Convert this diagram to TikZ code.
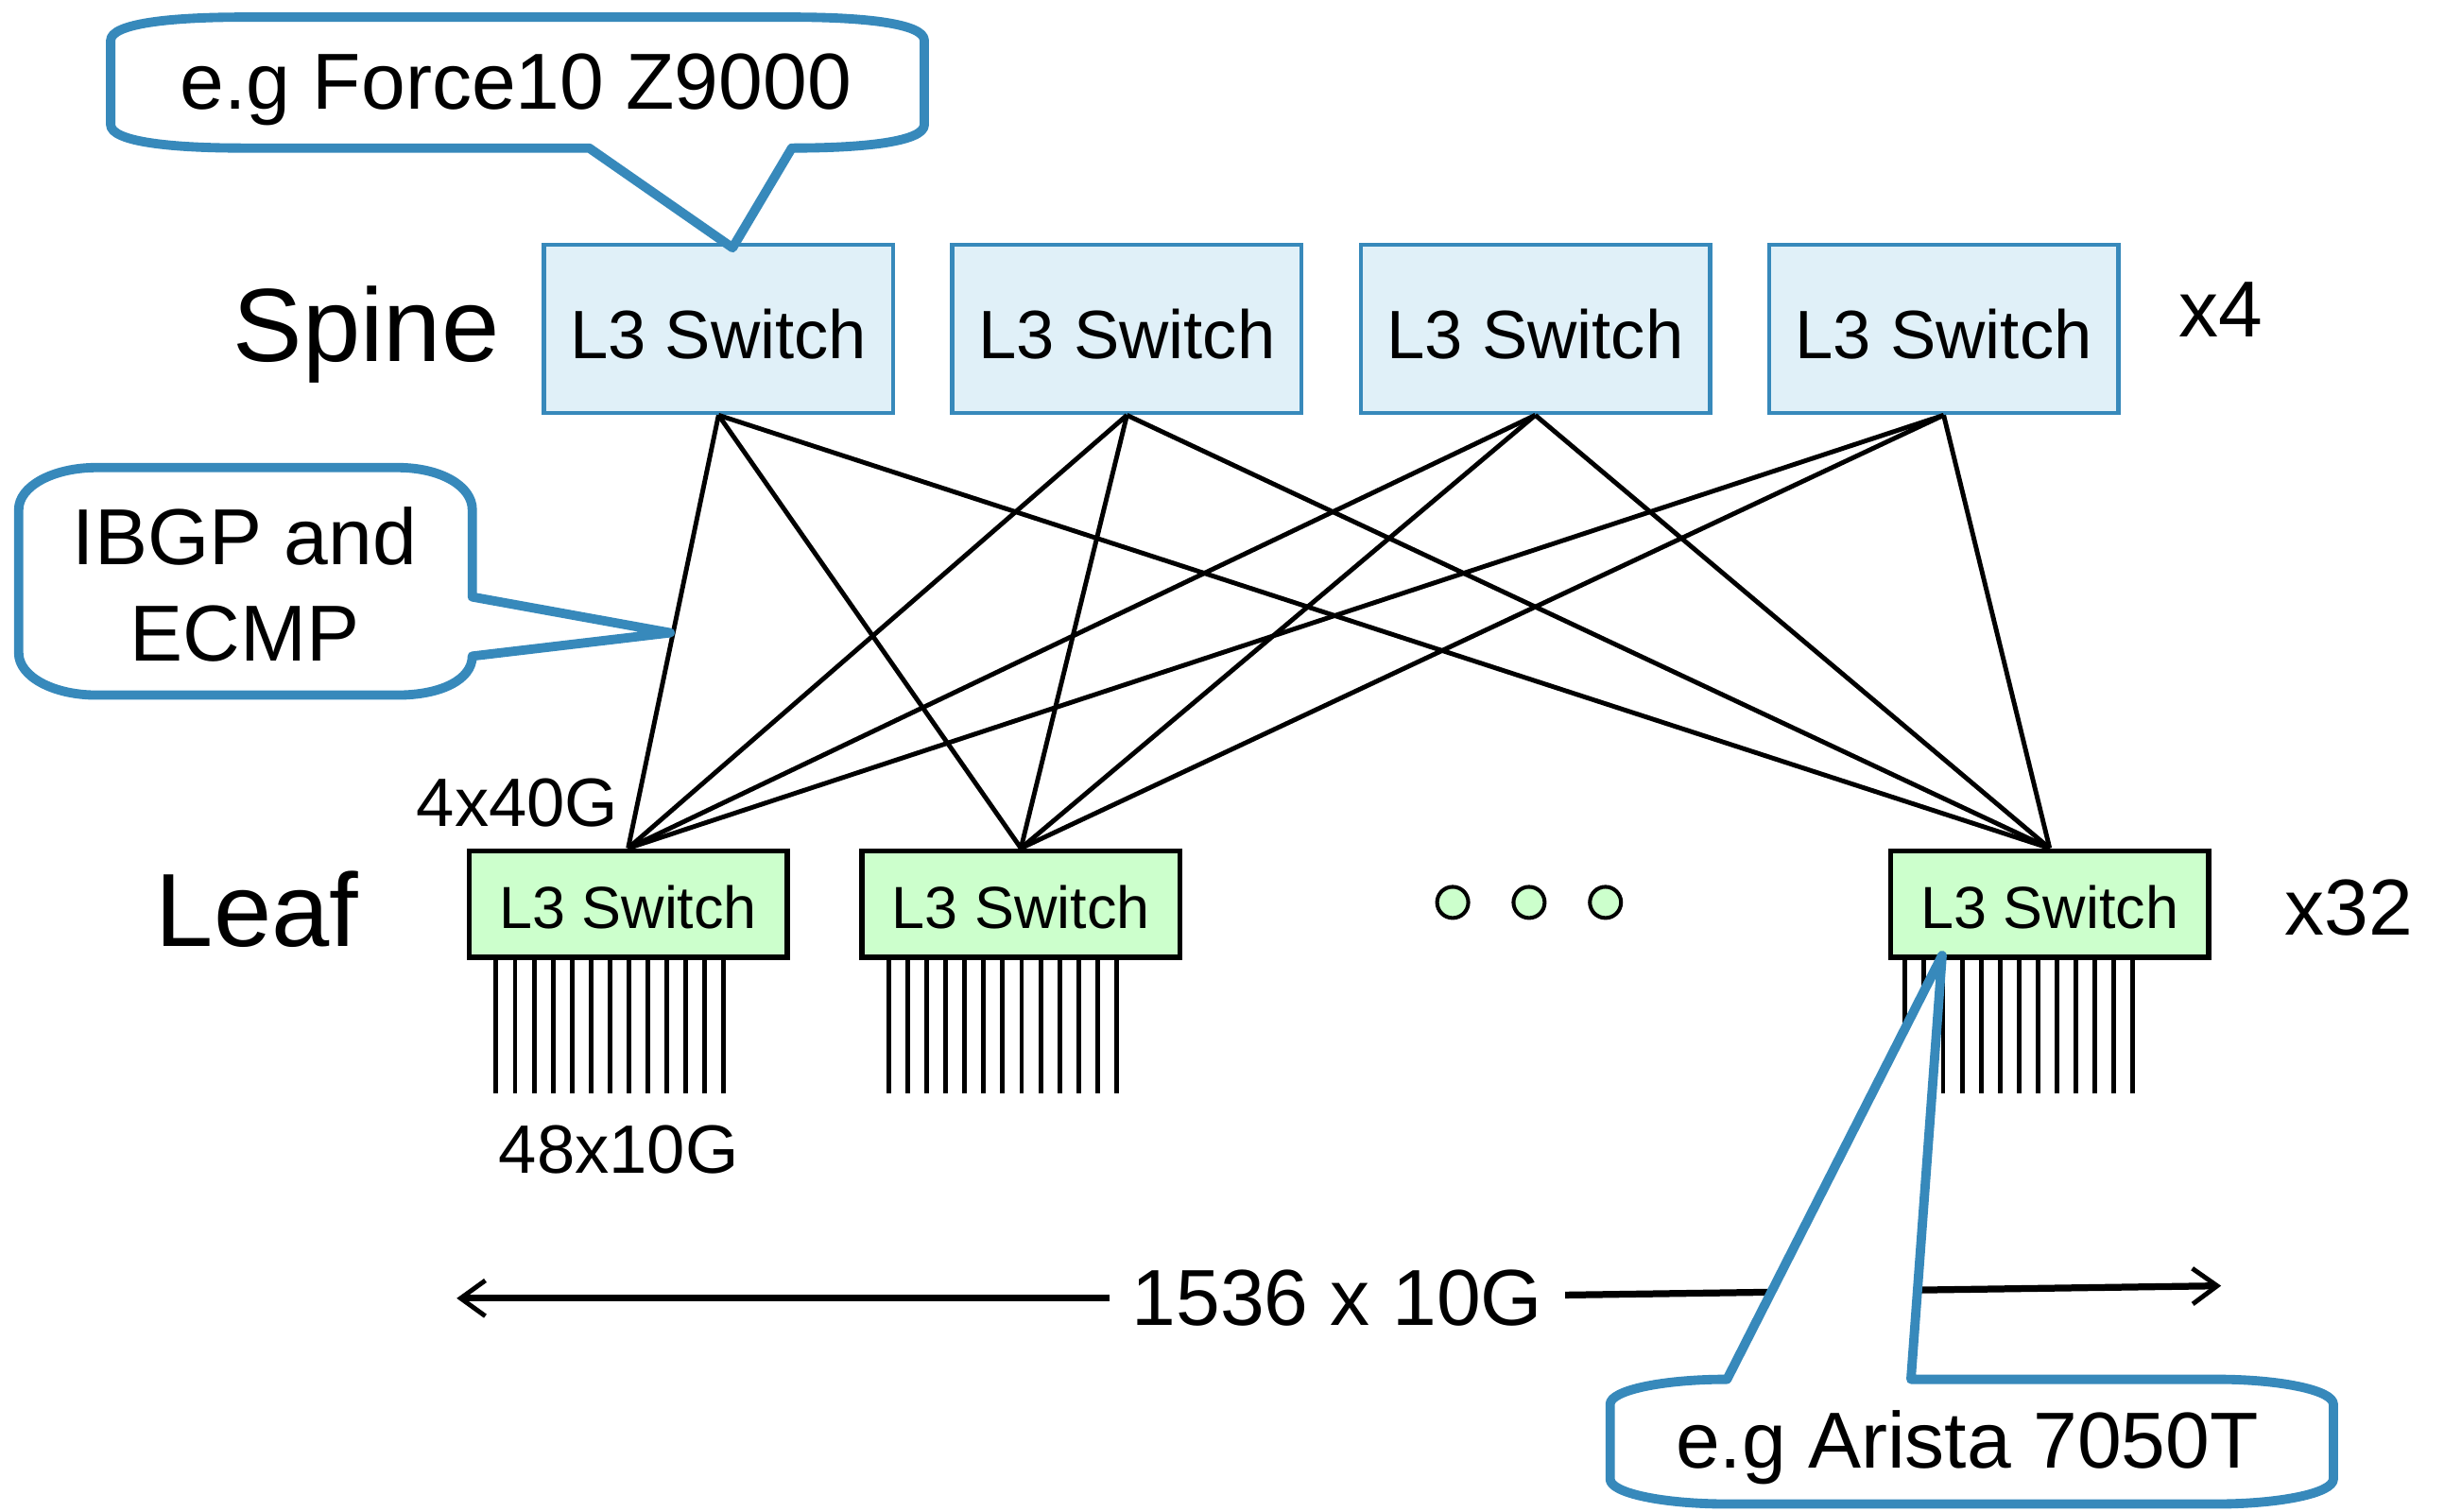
\documentclass[tikz,border=0pt]{standalone}
\usepackage{fontspec}
\setmainfont{Liberation Sans}
\usetikzlibrary{arrows.meta,calc}
\definecolor{cblue}{RGB}{55,137,187}
\definecolor{sfill}{RGB}{224,240,248}
\definecolor{lfill}{RGB}{204,255,204}
\begin{document}
\begin{tikzpicture}[x=0.02cm,y=-0.02cm,
 spinebox/.style={draw=cblue,line width=1.6pt,fill=sfill,minimum width=4.48cm,minimum height=2.16cm,inner sep=0pt,text height=21.5pt,text depth=0pt,font=\fontsize{25}{30}\selectfont},
 leafbox/.style={draw=black,line width=2pt,fill=lfill,minimum width=4.08cm,minimum height=1.36cm,inner sep=0pt,text height=18pt,text depth=0pt,font=\fontsize{21.7}{26}\selectfont},
 link/.style={line width=1.7pt},
 port/.style={line width=1.7pt},
 dotc/.style={circle,draw=black,line width=1.4pt,fill=lfill,minimum size=0.4cm,inner sep=0pt},
 callout/.style={draw=cblue,line width=3.4pt,fill=white,line join=round},
 lbl/.style={inner sep=0pt,anchor=base},
 big/.style={font=\fontsize{38}{42}\selectfont},
 mid/.style={font=\fontsize{29}{35}\selectfont},
 small/.style={font=\fontsize{25}{30}\selectfont},
]
\useasboundingbox (0,0) rectangle (1568,970);
\fill[white] (0,0) rectangle (1568,970);

% spine switches
\node[spinebox] (S1) at (461,211) {L3 Switch};
\node[spinebox] (S2) at (723,211) {L3 Switch};
\node[spinebox] (S3) at (985,211) {L3 Switch};
\node[spinebox] (S4) at (1247,211) {L3 Switch};

% leaf switches
\node[leafbox] (L1) at (403,580) {L3 Switch};
\node[leafbox] (L2) at (655,580) {L3 Switch};
\node[leafbox] (L3) at (1315,580) {L3 Switch};

% links
\foreach \s in {S1,S2,S3,S4}
  \foreach \l in {L1,L2,L3}
    \draw[link] (\s.south) -- (\l.north);

% ports
\foreach \k in {0,...,12} {
  \draw[port] (L1.south west) ++(19+12.17*\k,0) -- ++(0,86);
  \draw[port] (L2.south west) ++(19+12.17*\k,0) -- ++(0,86);
  \draw[port] (L3.south west) ++(11+12.17*\k,0) -- ++(0,86);
}

% dots
\node[dotc] (d1) at (932,579) {};
\node[dotc] (d2) at (981,579) {};
\node[dotc] (d3) at (1030,579) {};

% labels
\node[lbl,big] (spinelbl) at (235,232) {Spine};
\node[lbl,big] (leaflbl) at (165,607) {Leaf};
\node[lbl,mid] (x4) at (1425,216) {x4};
\node[lbl,mid] (x32) at (1507,600) {x32};
\node[lbl,small] (up) at (332,530) {4x40G};
\node[lbl,small] (down) at (397,753) {48x10G};

% bandwidth arrow
\coordinate (aL) at (293,833);
\coordinate (aR) at (1425,825);
\node[mid,fill=white,inner xsep=8pt,inner ysep=2pt] (bw) at (858,833) {1536 x 10G};
\draw[line width=2.5pt,-{Straight Barb[length=9pt,width=13pt,line width=1.7pt]}] (bw) -- (aL);
\draw[line width=2.5pt,-{Straight Barb[length=9pt,width=13pt,line width=1.7pt]}] (bw) -- (aR);

% callouts
\draw[callout] (71,26) .. controls (71,15) and (110,11) .. (156,11) -- (508,11)
  .. controls (554,11) and (593,15) .. (593,26) -- (593,80)
  .. controls (593,91) and (554,95) .. (508,95) -- (470,159) -- (378,95) -- (156,95)
  .. controls (110,95) and (71,91) .. (71,80) -- cycle;
\node[lbl,mid] (t1) at (331,70) {e.g Force10 Z9000};

\draw[callout] (12,327) .. controls (12,312) and (34,300) .. (62,300) -- (255,300)
  .. controls (283,300) and (303,312) .. (303,327) -- (303,383) -- (430,406) -- (303,421)
  .. controls (303,436) and (283,446) .. (255,446) -- (62,446)
  .. controls (34,446) and (12,434) .. (12,419) -- cycle;
\node[mid,align=center,inner sep=0pt] (t2) at (157,375) {IBGP and\\ECMP};

\draw[callout] (1033,901) .. controls (1033,892) and (1067,885) .. (1108,885) -- (1246,613)
  -- (1226,885) -- (1422,885) .. controls (1463,885) and (1497,892) .. (1497,901)
  -- (1497,949) .. controls (1497,958) and (1463,965) .. (1422,965) -- (1108,965)
  .. controls (1067,965) and (1033,958) .. (1033,949) -- cycle;
\node[lbl,mid] (t3) at (1262,942) {e.g Arista 7050T};
\end{tikzpicture}
\end{document}
